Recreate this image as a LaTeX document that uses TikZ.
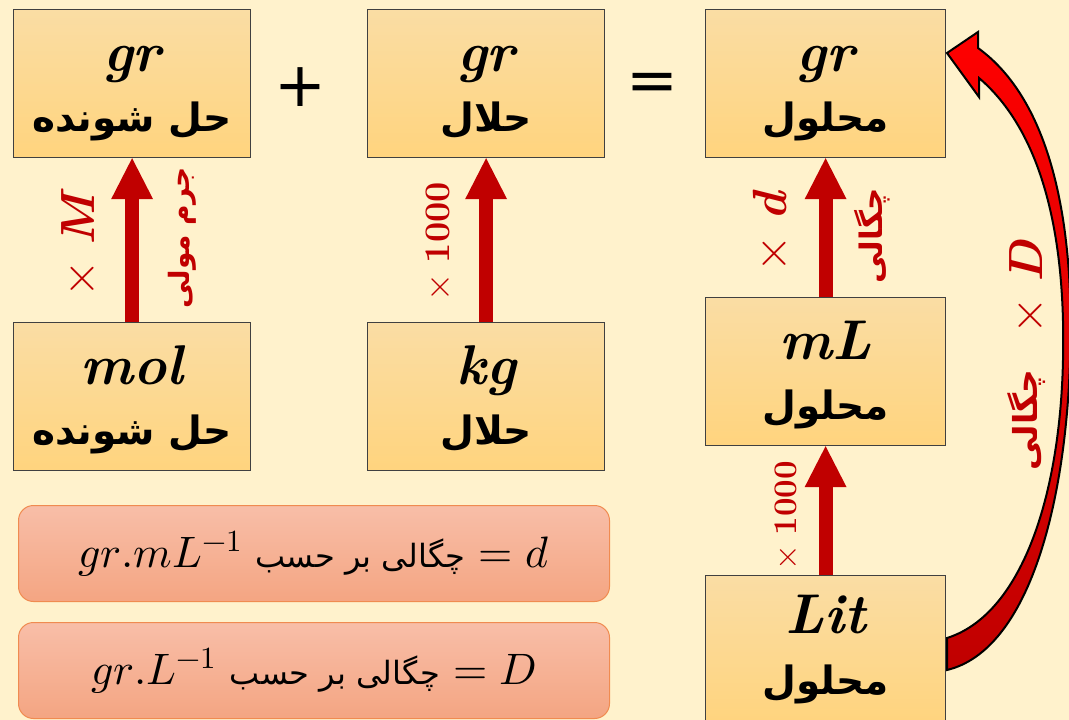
\documentclass[tikz,border=0pt]{standalone}
\usepackage{fontspec}
\usepackage{unicode-math}
\usetikzlibrary{arrows.meta}
\TeXXeTstate=1
\newfontfamily\fa[Script=Arabic]{DejaVu Sans}
\definecolor{bg}{HTML}{FFF2CC}
\definecolor{boxtop}{HTML}{FADDA4}
\definecolor{boxbot}{HTML}{FFD47E}
\definecolor{dred}{HTML}{C00000}
\definecolor{bred}{HTML}{FF0000}
\definecolor{saltop}{HTML}{F8BEA8}
\definecolor{salbot}{HTML}{F4A582}
\definecolor{salline}{HTML}{F08B50}
\tikzset{
  unitbox/.style={draw=black!75, line width=1.2pt, top color=boxtop, bottom color=boxbot,
    minimum width=237pt, minimum height=148pt, inner sep=0pt, anchor=north west},
  lat/.style={font=\fontsize{56}{56}\selectfont\bfseries\itshape, anchor=base, inner sep=0pt},
  per/.style={font=\fontsize{39}{42}\selectfont\fa\bfseries, anchor=base, inner sep=0pt},
  uparrow/.style={dred, line width=14pt, -{Triangle[width=42pt,length=41pt,line width=0pt]}},
  redlab/.style={text=dred, rotate=90, inner sep=0pt},
  bigsign/.style={font=\fontsize{62}{62}\selectfont\fa, inner sep=0pt},
  defbox/.style={draw=salline, line width=1pt, top color=saltop, bottom color=salbot,
    rounded corners=15pt, minimum width=591pt, minimum height=96pt, inner sep=0pt,
    anchor=north west, font=\fontsize{44}{44}\selectfont},
}
\begin{document}
\begin{tikzpicture}[x=1pt,y=-1pt]
\useasboundingbox (0,0) rectangle (1069,720);
\fill[bg] (0,0) rectangle (1069,720);
% boxes
\node[unitbox] (solg) at (13,9) {};
\node[unitbox] (solvg) at (367,9) {};
\node[unitbox, minimum width=240pt] (slng) at (705,9) {};
\node[unitbox] (solmol) at (13,322) {};
\node[unitbox] (solvkg) at (367,322) {};
\node[unitbox, minimum width=240pt] (slnml) at (705,297) {};
\node[unitbox, minimum width=240pt] (slnlit) at (705,575) {};
% texts in boxes
\node[lat] (t1a) at ([yshift=-62pt]solg.north) {gr};
\node[per] (t1b) at ([yshift=-122pt]solg.north) {\beginR حل شونده\endR};
\node[lat] (t2a) at ([yshift=-62pt]solvg.north) {gr};
\node[per] (t2b) at ([yshift=-122pt]solvg.north) {\beginR حلال\endR};
\node[lat] (t3a) at ([yshift=-62pt]slng.north) {gr};
\node[per] (t3b) at ([yshift=-122pt]slng.north) {\beginR محلول\endR};
\node[lat] (t4a) at ([yshift=-62pt]solmol.north) {mol};
\node[per] (t4b) at ([yshift=-122pt]solmol.north) {\beginR حل شونده\endR};
\node[lat] (t5a) at ([yshift=-62pt]solvkg.north) {kg};
\node[per] (t5b) at ([yshift=-122pt]solvkg.north) {\beginR حلال\endR};
\node[lat] (t6a) at ([yshift=-62pt]slnml.north) {mL};
\node[per] (t6b) at ([yshift=-122pt]slnml.north) {\beginR محلول\endR};
\node[lat] (t7a) at ([yshift=-58pt]slnlit.north) {Lit};
\node[per] (t7b) at ([yshift=-119pt]slnlit.north) {\beginR محلول\endR};
% signs
\node[bigsign] (plus) at (300,87) {+};
\node[bigsign] (eq) at (652,87) {=};
% arrows
\draw[uparrow] (solmol.north) -- (solg.south);
\draw[uparrow] (solvkg.north) -- (solvg.south);
\draw[uparrow] (slnml.north) -- (slng.south);
\draw[uparrow] (slnlit.north) -- (slnml.south);
% arrow labels
\node[redlab, font=\fontsize{48}{48}\selectfont] (lm) at (78,243) {$\times$ \textbf{\textit{M}}};
\node[redlab, font=\fontsize{28}{32}\selectfont\fa\bfseries] (lmm) at (182,238) {\beginR جرم مولی\endR};
\node[redlab, font=\fontsize{36}{36}\selectfont] (lk) at (438,242) {$\times$ \textbf{1000}};
\node[redlab, font=\fontsize{48}{48}\selectfont] (ld) at (770,231) {$\times$ \textbf{\textit{d}}};
\node[redlab, font=\fontsize{31}{34}\selectfont\fa\bfseries] (ldd) at (872,236) {\beginR چگالی\endR};
\node[redlab, font=\fontsize{33}{33}\selectfont] (ll) at (786,516) {$\times$ \textbf{1000}};
% curved arrow
\draw[line width=2pt, draw=black, top color=bred, bottom color=dred, line join=miter]
  (947,670) .. controls (1030,650) and (1066,500) .. (1070,360)
  .. controls (1075,220) and (1050,100) .. (978,48)
  -- (978,32) -- (947,53) -- (979,97) -- (979,78)
  .. controls (1040,130) and (1066,230) .. (1063,360)
  .. controls (1060,500) and (1020,615) .. (947,638) -- cycle;
\node[redlab, font=\fontsize{48}{48}\selectfont] (lD) at (1026,287) {$\times$ \textbf{\textit{D}}};
\node[redlab, font=\fontsize{33}{36}\selectfont\fa\bfseries] (lDD) at (1027,420) {\beginR چگالی\endR};
% definition boxes
\node[defbox] (defd) at (18,505) {$gr.mL^{-1}$\ {\fontsize{32}{36}\selectfont\fa\beginR چگالی بر حسب\endR}\ $= d$};
\node[defbox] (defD) at (18,622) {$gr.L^{-1}$\ {\fontsize{32}{36}\selectfont\fa\beginR چگالی بر حسب\endR}\ $= D$};
\end{tikzpicture}
\end{document}
